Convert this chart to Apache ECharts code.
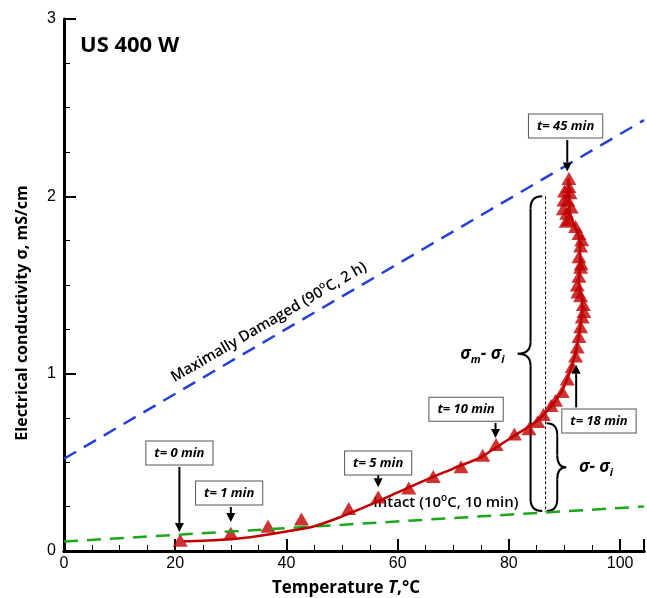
<!DOCTYPE html>
<html><head><meta charset="utf-8">
<script src="https://cdn.jsdelivr.net/npm/echarts@6/dist/echarts.min.js"></script>
<style>html,body{margin:0;padding:0;background:#fff}#c{width:647px;height:598px}</style>
</head><body><div id="c"></div>
<script>
// ---- data ----
const titleText = 'US 400 W';
const xTickStep = 20;            // x labels 0,20,...,100
const yTickStep = 1;             // y labels 0,1,2,3
const xMax = 104.3, yMax = 3;

// Maximally damaged (90°C, 2 h) – blue dashed
const damagedT = [0, 104.3];
const damagedSigma = [0.52, 2.43];
// Intact (10°C, 10 min) – green dashed
const intactT = [0, 104.3];
const intactSigma = [0.053, 0.251];

// measured points (red triangles)
const measuredT = [20.9,30.0,36.7,42.7,51.2,56.5,62.0,66.4,71.4,75.3,77.7,81.0,83.6,85.2,86.2,87.6,88.4,89.6,90.5,91.4,92.0,92.3,92.6,92.9,93.2,93.5,93.4,92.9,92.4,92.3,92.6,92.9,93.0,92.6,92.9,93.1,92.6,92.0,90.8,90.3,90.4,89.8,91.2,89.9,90.6,90.0,91.0,90.8,90.8];
const measuredSigma = [0.06,0.10,0.14,0.18,0.24,0.305,0.355,0.42,0.475,0.54,0.60,0.66,0.69,0.73,0.77,0.82,0.85,0.90,0.97,1.04,1.10,1.15,1.21,1.265,1.32,1.35,1.39,1.44,1.46,1.50,1.55,1.60,1.62,1.66,1.72,1.755,1.79,1.83,1.87,1.86,1.905,1.93,1.94,1.98,1.98,2.03,2.02,2.055,2.10];

// red trend curve
const fitT = [21.5,25,30,35,40,45,50,55,60,65,70,75,78,81,84,86,88,89.5,90.5,91.4,92.1,92.6,93.0,93.2,93.0,92.6,92.8,92.8,92.5,91.6,90.9,90.8,90.7];
const fitSigma = [0.055,0.058,0.066,0.085,0.11,0.14,0.195,0.26,0.33,0.40,0.465,0.53,0.59,0.65,0.71,0.76,0.83,0.90,0.97,1.05,1.13,1.22,1.30,1.38,1.45,1.52,1.60,1.70,1.78,1.85,1.92,2.0,2.1];

// time callouts: box centre, arrow from -> to (data units)
const calloutText  = ['t= 0 min','t= 1 min','t= 5 min','t= 10 min','t= 18 min','t= 45 min'];
const calloutBoxT  = [20.75, 29.7, 56.5, 72.3, 96.2, 90.2];
const calloutBoxS  = [0.553, 0.327, 0.496, 0.80, 0.733, 2.397];
const arrowT       = [20.75, 30.0, 56.5, 77.6, 92.1, 90.5];
const arrowFromS   = [0.474, 0.248, 0.434, 0.722, 0.81, 2.318];
const arrowToS     = [0.107, 0.164, 0.36, 0.637, 1.05, 2.14];

// difference markers
const refLineT = 86.6, refLineTop = 2.0, refLineBottom = 0.22;
const bigBrace   = {spine: 83.9, ends: 86.0, tip: 81.6, top: 2.0, bottom: 0.225};
const smallBrace = {spine: 88.7, ends: 86.8, tip: 90.3, top: 0.72, bottom: 0.225};

const zip = (a, b) => a.map((v, i) => [v, b[i]]);

const chart = echarts.init(document.getElementById('c'), null, {renderer: 'canvas'});
const axisCommon = {
  type: 'value', splitLine: {show: false},
  axisLine: {show: true, onZero: false, lineStyle: {color: '#000', width: 3}},
  axisTick: {show: true, inside: true, length: 12, lineStyle: {color: '#000', width: 2}},
  minorTick: {show: true, splitNumber: 4, length: 6, lineStyle: {color: '#000', width: 1}},
  axisLabel: {color: '#000', fontSize: 16, fontFamily: 'Liberation Sans'}
};
chart.setOption({
  animation: false,
  backgroundColor: '#fff',
  grid: {left: 64, right: 0, top: 19, bottom: 47},
  xAxis: [
    Object.assign({}, axisCommon, {min: 0, max: xMax, interval: xTickStep,
      axisLabel: Object.assign({}, axisCommon.axisLabel, {margin: 5,
        formatter: v => (Math.abs(v % xTickStep) < 1e-6 ? String(v) : '')})}),
    {type: 'value', position: 'top', min: 0, max: xMax, splitLine: {show: false},
     axisLine: {show: true, lineStyle: {color: '#000', width: 3}}, axisTick: {show: false}, axisLabel: {show: false}}
  ],
  yAxis: [Object.assign({}, axisCommon, {min: 0, max: yMax, interval: yTickStep,
    axisLabel: Object.assign({}, axisCommon.axisLabel, {margin: 8})})],
  series: [
    {type: 'line', data: zip(damagedT, damagedSigma), showSymbol: false, silent: true,
     lineStyle: {color: '#2440d8', width: 2.5, type: [14, 9]}},
    {type: 'line', data: zip(intactT, intactSigma), showSymbol: false, silent: true,
     lineStyle: {color: '#1aa81a', width: 2.5, type: [14, 9]}},
    {type: 'line', data: zip(fitT, fitSigma), showSymbol: false, smooth: 0.3, silent: true,
     lineStyle: {color: '#c00000', width: 2.5}},
    {type: 'scatter', data: zip(measuredT, measuredSigma), symbol: 'triangle', symbolSize: [15, 13],
     itemStyle: {color: '#c00000'}, silent: true}
  ]
});

const P = (t, s) => chart.convertToPixel({gridIndex: 0}, [t, s]);
const g = [];
// title
g.push({type: 'text', x: 80, y: 46, style: {text: titleText, font: 'bold 22px "Open Sans"', fill: '#000', verticalAlign: 'middle'}});
// y axis name
g.push({type: 'text', x: 22, y: 313, rotation: Math.PI / 2,
  style: {text: 'Electrical conductivity σ, mS/cm', font: 'bold 16px "Open Sans"', fill: '#000', align: 'center', verticalAlign: 'middle'}});
// x axis name
g.push({type: 'text', x: 346, y: 588, style: {
  text: '{a|Temperature }{b|T}{a|,°C}', align: 'center', verticalAlign: 'middle',
  rich: {a: {font: 'bold 17px "Open Sans"', fill: '#000'}, b: {font: 'italic bold 17px "Open Sans"', fill: '#000'}}}});

// line labels
{
  const p0 = P(damagedT[0], damagedSigma[0]), p1 = P(damagedT[1], damagedSigma[1]);
  const ang = Math.atan2(p0[1] - p1[1], p1[0] - p0[0]);
  const c = P(36.85, 1.29);
  g.push({type: 'text', x: c[0], y: c[1], rotation: ang, style: {
    text: '{a|Maximally Damaged (90}{s|o}{a|C, 2 h)}', align: 'center', verticalAlign: 'middle',
    rich: {a: {font: '600 15px "Open Sans"', fill: '#000', lineHeight: 20}, s: {font: '600 10px "Open Sans"', fill: '#000', verticalAlign: 'top', lineHeight: 20}}}});
  const ci = P(55.6, 0.27);
  g.push({type: 'text', x: ci[0], y: ci[1], style: {
    text: '{a|Intact (10}{s|o}{a|C, 10 min)}', align: 'left', verticalAlign: 'middle',
    rich: {a: {font: '600 15px "Open Sans"', fill: '#000', lineHeight: 20}, s: {font: '600 10px "Open Sans"', fill: '#000', verticalAlign: 'top', lineHeight: 20}}}});
}

// callouts
for (let i = 0; i < calloutText.length; i++) {
  const b = P(calloutBoxT[i], calloutBoxS[i]);
  g.push({type: 'text', x: b[0], y: b[1], z: 10, style: {
    text: calloutText[i], font: 'italic bold 13px "Open Sans"', fill: '#000',
    align: 'center', verticalAlign: 'middle', backgroundColor: '#fff',
    borderColor: '#555', borderWidth: 1, padding: [5, 8, 5, 8]}});
  const a0 = P(arrowT[i], arrowFromS[i]), a1 = P(arrowT[i], arrowToS[i]);
  const dir = a1[1] > a0[1] ? 1 : -1, head = 9;
  g.push({type: 'line', z: 9, shape: {x1: a0[0], y1: a0[1], x2: a1[0], y2: a1[1] - dir * head},
    style: {stroke: '#000', lineWidth: 2}});
  g.push({type: 'polygon', z: 9, shape: {points: [[a1[0] - 4.5, a1[1] - dir * head], [a1[0] + 4.5, a1[1] - dir * head], [a1[0], a1[1]]]},
    style: {fill: '#000'}});
}

// reference dashed vertical line
{
  const t = P(refLineT, refLineTop), b = P(refLineT, refLineBottom);
  g.push({type: 'line', shape: {x1: t[0], y1: t[1], x2: b[0], y2: b[1]}, style: {stroke: '#000', lineWidth: 1, lineDash: [3, 2]}});
}
function brace(br) {
  const xs = P(br.spine, 0)[0], xe = P(br.ends, 0)[0], xt = P(br.tip, 0)[0];
  const yt = P(0, br.top)[1], yb = P(0, br.bottom)[1], ym = (yt + yb) / 2;
  const r = Math.min(12, (yb - yt) / 6);
  const st = {stroke: '#000', lineWidth: 2, fill: null};
  const curve = (x1, y1, cx, cy, x2, y2) => g.push({type: 'bezierCurve', shape: {x1, y1, cpx1: cx, cpy1: cy, x2, y2}, style: st});
  const seg = (x1, y1, x2, y2) => g.push({type: 'line', shape: {x1, y1, x2, y2}, style: st});
  curve(xe, yt, xs, yt, xs, yt + r);
  seg(xs, yt + r, xs, ym - r);
  curve(xs, ym - r, xs, ym, xt, ym);
  curve(xt, ym, xs, ym, xs, ym + r);
  seg(xs, ym + r, xs, yb - r);
  curve(xs, yb - r, xs, yb, xe, yb);
}
brace(bigBrace);
brace(smallBrace);
{
  const p = P(79.2, 1.11);
  g.push({type: 'text', x: p[0], y: p[1], style: {text: '{a|σ}{b|m}{a|- σ}{b|i}', align: 'right', verticalAlign: 'middle',
    rich: {a: {font: 'italic bold 17px "Open Sans"', fill: '#000', lineHeight: 22}, b: {font: 'italic bold 11px "Open Sans"', fill: '#000', verticalAlign: 'bottom', lineHeight: 22}}}});
  const q = P(92.6, 0.474);
  g.push({type: 'text', x: q[0], y: q[1], style: {text: '{a|σ- σ}{b|i}', align: 'left', verticalAlign: 'middle',
    rich: {a: {font: 'italic bold 17px "Open Sans"', fill: '#000', lineHeight: 22}, b: {font: 'italic bold 11px "Open Sans"', fill: '#000', verticalAlign: 'bottom', lineHeight: 22}}}});
}
chart.setOption({graphic: {elements: g}});
</script></body></html>
